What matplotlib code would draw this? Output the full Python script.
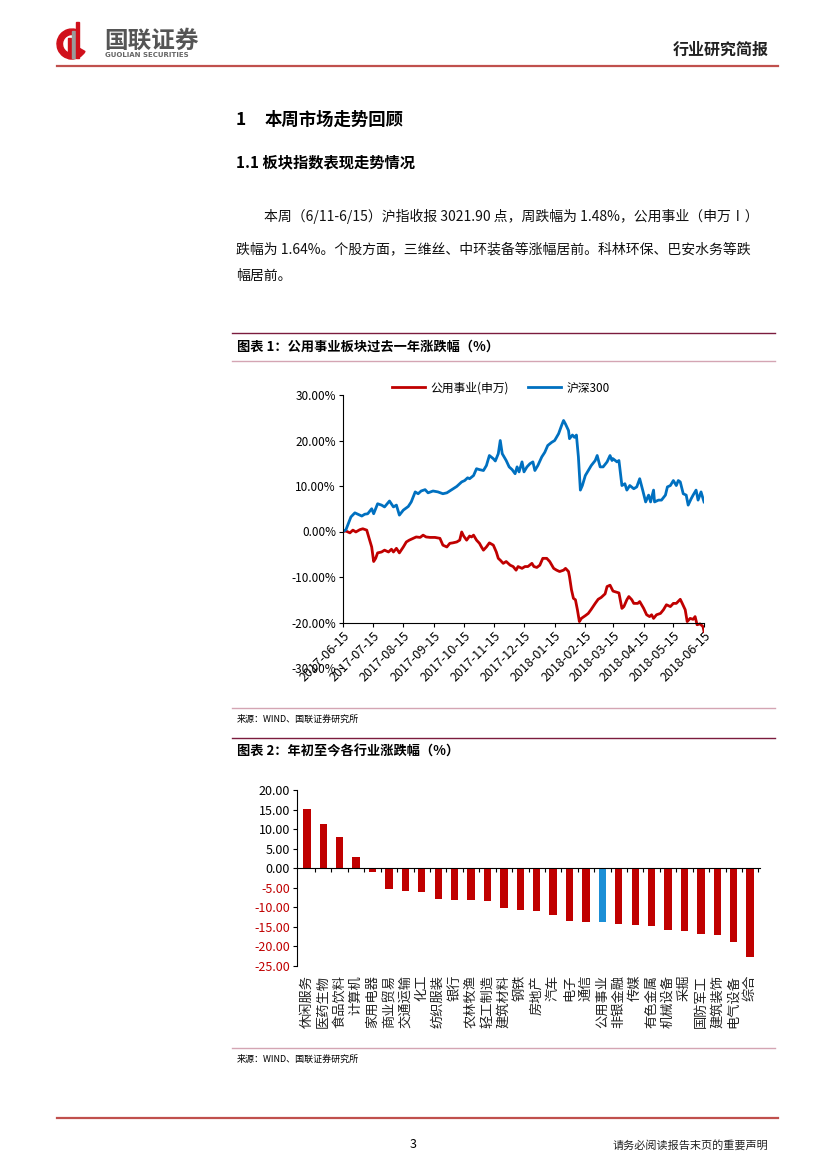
import numpy as np
import matplotlib
matplotlib.use('Agg')
import matplotlib.pyplot as plt
import matplotlib.dates as mdates
import matplotlib.transforms as mtransforms
from matplotlib.patches import Wedge, Rectangle

plt.rcParams['font.family'] = ['Noto Sans CJK SC', 'DejaVu Sans']
plt.rcParams['axes.unicode_minus'] = False

# ---- chart 1 data: days after 2017-06-15, cumulative change in %
start = np.datetime64('2017-06-15')
hs300_days = [0, 3, 8, 12, 15, 19, 22, 25, 29, 31, 35, 39, 42, 47, 51, 54, 57, 61, 66, 69,
              73, 76, 79, 83, 86, 91, 96, 101, 105, 110, 115, 120, 123, 126, 128, 132, 135, 138, 142, 145,
              148, 152, 154, 157, 159, 161, 165, 168, 171, 174, 176, 178, 181, 183, 186, 189, 192, 194, 197, 201,
              204, 207, 211, 214, 218, 221, 223, 225, 228, 229, 232, 234, 236, 238, 240, 242, 245, 248, 251, 255,
              257, 260, 263, 267, 270, 272, 273, 277, 279, 282, 285, 287, 290, 294, 297, 300, 303, 306, 309, 311,
              314, 315, 319, 322, 326, 328, 331, 334, 337, 339, 341, 344, 347, 349, 352, 354, 357, 359, 362, 365]
hs300_vals = [0, 0.4, 3.2, 4.1, 3.8, 3.4, 3.8, 3.9, 5.0, 3.9, 6.1, 5.8, 5.4, 6.7, 5.4, 5.8, 3.6, 4.7, 5.5, 6.5,
              8.7, 8.3, 8.9, 9.2, 8.5, 8.9, 8.7, 8.3, 8.5, 9.2, 9.9, 10.9, 11.2, 11.8, 11.6, 12.3, 13.8, 13.6, 13.4, 14.5,
              16.7, 16.0, 15.5, 17.1, 20.0, 17.1, 15.6, 14.2, 13.6, 12.7, 14.2, 13.1, 15.3, 13.1, 14.2, 14.9, 15.3, 13.4, 14.5, 16.4,
              17.4, 18.9, 19.6, 20.0, 21.5, 23.3, 24.4, 23.6, 22.2, 20.4, 21.2, 20.7, 21.2, 16.4, 9.1, 10.1, 12.3, 13.4, 14.5, 15.6,
              16.7, 14.2, 14.2, 15.3, 16.7, 15.6, 16.0, 15.3, 15.6, 10.1, 10.5, 9.1, 10.1, 9.4, 9.8, 11.6, 9.1, 6.5, 8.0, 6.5,
              9.1, 6.5, 6.9, 6.9, 8.0, 9.8, 10.1, 11.2, 10.1, 11.2, 10.9, 8.3, 8.0, 5.8, 7.2, 8.0, 9.1, 6.9, 8.7, 6.5]
util_days = [0, 3, 7, 10, 13, 17, 20, 24, 26, 29, 31, 33, 35, 39, 42, 46, 49, 51, 54, 57,
             61, 64, 67, 71, 74, 78, 81, 84, 88, 93, 98, 101, 105, 108, 111, 115, 118, 120, 122, 125,
             128, 130, 132, 135, 138, 140, 142, 145, 148, 152, 155, 157, 159, 162, 165, 169, 172, 175, 177, 181,
             184, 187, 191, 193, 196, 199, 202, 206, 209, 213, 216, 219, 223, 225, 228, 229, 231, 233, 235, 237,
             239, 241, 245, 248, 251, 255, 258, 261, 265, 267, 270, 273, 276, 279, 282, 284, 287, 289, 292, 294,
             298, 300, 304, 307, 310, 312, 314, 317, 321, 324, 327, 331, 334, 337, 341, 343, 346, 348, 351, 354,
             356, 358, 361, 364, 365]
util_vals = [0, 0.1, -0.3, 0.3, -0.1, 0.4, 0.6, 0.3, -1.2, -3.4, -6.6, -5.9, -4.7, -4.5, -4.1, -4.5, -3.9, -4.5, -3.7, -4.7,
             -3.4, -2.3, -1.9, -1.5, -1.2, -1.3, -0.8, -1.2, -1.3, -1.3, -1.5, -3.0, -3.4, -2.6, -2.5, -2.3, -1.9, -0.1, -1.0, -1.9,
             -1.0, -1.2, -0.8, -1.9, -2.6, -3.4, -4.1, -3.4, -2.5, -3.0, -4.5, -5.9, -6.3, -7.0, -6.6, -7.4, -7.7, -8.5, -7.7, -8.1,
             -7.7, -7.7, -7.0, -7.7, -7.9, -7.4, -5.9, -5.9, -6.6, -8.1, -8.5, -8.8, -8.5, -8.1, -8.8, -9.9, -12.8, -14.7, -15.0, -17.2,
             -19.8, -19.1, -18.5, -18.0, -17.1, -15.8, -14.9, -14.5, -13.7, -12.1, -11.8, -13.1, -13.3, -13.5, -16.9, -16.5, -15.0, -14.3, -15.0, -15.8,
             -15.8, -15.4, -16.9, -18.3, -18.7, -18.3, -19.1, -18.3, -18.0, -17.2, -16.1, -16.5, -15.8, -15.8, -14.9, -15.8, -17.2, -19.8, -19.1, -19.3,
             -18.7, -20.5, -20.3, -20.9, -22.0]
tick_dates = ['2017-06-15', '2017-07-15', '2017-08-15', '2017-09-15', '2017-10-15', '2017-11-15', '2017-12-15',
              '2018-01-15', '2018-02-15', '2018-03-15', '2018-04-15', '2018-05-15', '2018-06-15']

# ---- chart 2 data: YTD change by industry (%)
industries = ['休闲服务', '医药生物', '食品饮料', '计算机', '家用电器', '商业贸易', '交通运输', '化工', '纺织服装', '银行',
              '农林牧渔', '轻工制造', '建筑材料', '钢铁', '房地产', '汽车', '电子', '通信', '公用事业', '非银金融',
              '传媒', '有色金属', '机械设备', '采掘', '国防军工', '建筑装饰', '电气设备', '综合']
ytd_change = [15.2, 11.2, 8.0, 2.8, -1.0, -5.2, -5.7, -6.1, -7.9, -8.0,
              -8.2, -8.5, -10.2, -10.6, -11.0, -12.0, -13.5, -13.7, -13.8, -14.2,
              -14.6, -14.8, -15.7, -16.0, -16.8, -17.2, -18.8, -22.8]

W, H = 827, 1169
RED = '#C00000'
BLUE = '#0070C0'

fig = plt.figure(figsize=(W / 100, H / 100), dpi=100)


def fx(x):
    return x / W


def fy(y):
    return 1 - y / H


def hline(y, x0, x1, color, lw):
    fig.add_artist(plt.Line2D([fx(x0), fx(x1)], [fy(y), fy(y)], color=color, lw=lw,
                              transform=fig.transFigure))


def ftext(x, y, s, **kw):
    fig.text(fx(x), fy(y), s, **kw)


# ---- header
logo = fig.add_axes([fx(56), fy(64), fx(32), 44 / H])
logo.set_xlim(0, 32)
logo.set_ylim(0, 44)
logo.set_aspect('equal')
logo.axis('off')
logo.add_patch(Wedge((16, 20), 15, 75, 330, width=5.5, color='#D0101B'))
for bx, bh, c in [(12, 20, '#D0101B'), (16, 27, '#9a9a9a'), (20, 36, '#D0101B')]:
    logo.add_patch(Rectangle((bx, 6), 2.6, bh, color=c))

ftext(104, 41, '国联证券', fontsize=17, weight='bold', color='#555555', va='center')
ftext(105, 55, 'GUOLIAN SECURITIES', fontsize=5, weight='bold', color='#666666', va='center',
      family='DejaVu Sans')
ftext(769, 50, '行业研究简报', fontsize=11.5, weight='bold', color='#222222', ha='right', va='center')
hline(66, 57, 778, '#C0504D', 1.6)

# ---- section headings and paragraph
ftext(236, 120, '1', fontsize=12.5, weight='bold', va='center')
ftext(265, 120, '本周市场走势回顾', fontsize=12.5, weight='bold', va='center')
ftext(236, 162, '1.1 板块指数表现走势情况', fontsize=11, weight='bold', va='center')
ftext(264, 216, '本周（6/11-6/15）沪指收报 3021.90 点，周跌幅为 1.48%，公用事业（申万Ⅰ）',
      fontsize=10, va='center', color='#111111')
ftext(236, 249, '跌幅为 1.64%。个股方面，三维丝、中环装备等涨幅居前。科林环保、巴安水务等跌',
      fontsize=10, va='center', color='#111111')
ftext(236, 276, '幅居前。', fontsize=10, va='center', color='#111111')

# ---- chart 1 frame
hline(333, 232, 775, '#7B1C3E', 1.0)
ftext(237, 347, '图表 1：公用事业板块过去一年涨跌幅（%）', fontsize=9.5, weight='bold', va='center')
hline(361, 232, 775, '#D4A5B3', 1.0)
hline(708, 232, 775, '#D4A5B3', 1.0)
ftext(237, 719, '来源：WIND、国联证券研究所', fontsize=6.5, va='center')

ax1 = fig.add_axes([fx(343), fy(668), fx(704 - 343), (668 - 395) / H])
ax1.spines['top'].set_visible(False)
ax1.spines['right'].set_visible(False)
ax1.spines['bottom'].set_position(('data', -20))
ax1.spines['left'].set_bounds(-20, 30)
x_hs = mdates.date2num(start + np.array(hs300_days).astype('timedelta64[D]'))
x_ut = mdates.date2num(start + np.array(util_days).astype('timedelta64[D]'))
ax1.plot(x_ut, util_vals, color=RED, lw=2.0, label='公用事业(申万)')
ax1.plot(x_hs, hs300_vals, color=BLUE, lw=2.0, label='沪深300')
ticks = mdates.date2num(np.array(tick_dates, dtype='datetime64[D]'))
ax1.set_xlim(ticks[0], ticks[-1])
ax1.set_ylim(-30, 30)
ax1.set_yticks(np.arange(-30, 31, 10))
ax1.set_yticklabels([f'{v:.2f}%' for v in np.arange(-30, 31, 10)], fontsize=8.5)
ax1.set_xticks(ticks)
ax1.tick_params(axis='both', direction='out', length=3, width=0.8, pad=2)
ax1.set_xticklabels(tick_dates, rotation=45, ha='right', va='top', rotation_mode='anchor', fontsize=9)
ax1.patch.set_alpha(0)
ax1.legend(loc='center', bbox_to_anchor=(fx(501), fy(388)), bbox_transform=fig.transFigure,
           ncol=2, frameon=False, fontsize=8.5, handlelength=2.8, columnspacing=1.6, handletextpad=0.5)

# ---- chart 2 frame
hline(738, 232, 775, '#7B1C3E', 1.0)
ftext(237, 752, '图表 2：年初至今各行业涨跌幅（%）', fontsize=9.5, weight='bold', va='center')
hline(1048, 232, 775, '#D4A5B3', 1.0)
ftext(237, 1059, '来源：WIND、国联证券研究所', fontsize=6.5, va='center')

ax2 = fig.add_axes([fx(297), fy(966), fx(760 - 297), (966 - 790) / H])
ax2.spines['top'].set_visible(False)
ax2.spines['right'].set_visible(False)
ax2.spines['bottom'].set_position(('data', 0))
pos = np.arange(len(industries))
colors = ['#1B8FD6' if n == '公用事业' else RED for n in industries]
ax2.bar(pos, ytd_change, width=0.45, color=colors)
ax2.set_xlim(-0.6, len(industries) - 0.4)
ax2.set_ylim(-25, 20)
yt = np.arange(-25, 21, 5)
ax2.set_yticks(yt)
ax2.set_yticklabels([f'{v:.2f}' for v in yt], fontsize=9)
for lab, v in zip(ax2.get_yticklabels(), yt):
    lab.set_color(RED if v < 0 else 'black')
ax2.set_xticks([])
ax2.set_xticks(pos + 0.5, minor=True)
ax2.tick_params(axis='x', which='minor', direction='out', length=3, width=0.8, labelbottom=False)
ax2.tick_params(axis='y', direction='out', length=3, width=0.8, pad=2)
ax2.patch.set_alpha(0)
trans = mtransforms.blended_transform_factory(ax2.transData, ax2.transAxes)
for i, name in enumerate(industries):
    ax2.text(i, -0.05, name, transform=trans, rotation=90, ha='center', va='top', fontsize=9.5,
             color='#222222')

# ---- footer
hline(1118, 57, 778, '#C0504D', 1.6)
ftext(413, 1145, '3', fontsize=9, ha='center', va='center')
ftext(768, 1145, '请务必阅读报告末页的重要声明', fontsize=8, ha='right', va='center', color='#222222')

fig.savefig('out.png', dpi=100)
